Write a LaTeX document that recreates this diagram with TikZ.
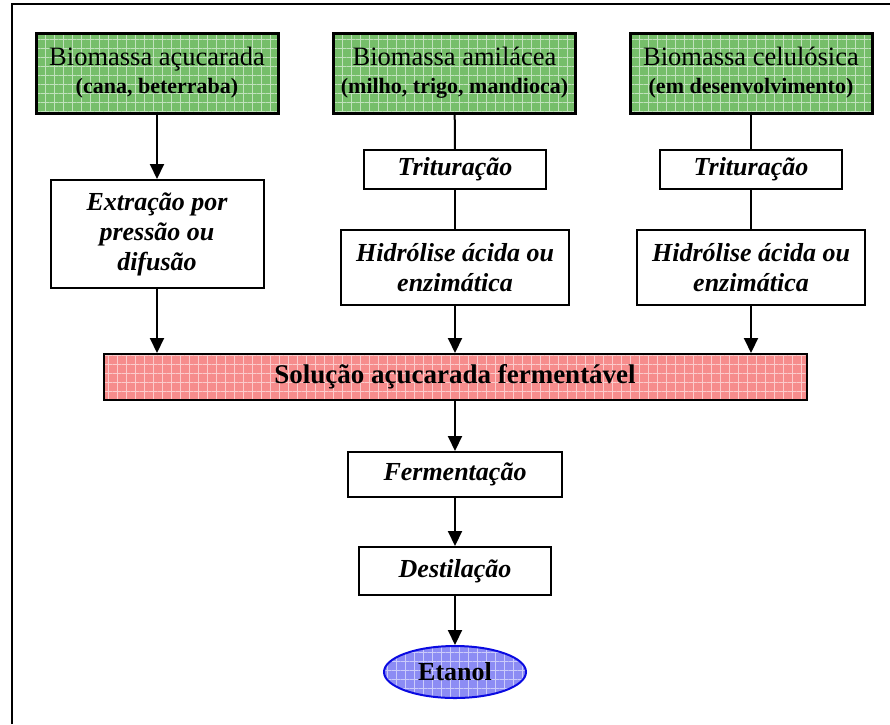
\documentclass[tikz,border=0pt]{standalone}
\usepackage{fontspec}
\setmainfont{Liberation Serif}
\usetikzlibrary{arrows.meta,shapes.geometric,patterns.meta}
\definecolor{biogreen}{RGB}{118,190,106}
\definecolor{solpink}{RGB}{246,140,140}
\definecolor{etblue}{RGB}{140,140,244}
\definecolor{etline}{RGB}{10,10,225}
\newcommand{\subtxt}{\fontsize{22}{24}\selectfont\bfseries}
\begin{document}
\begin{tikzpicture}[x=1pt, y=-1pt, >={Triangle[width=14pt,length=15pt]}, line width=2pt,
grid fill/.style={preaction={fill=#1},pattern={Hatch[angle=0,distance=9pt,line width=1pt]},pattern color=white!55!#1},
bio node/.style={rectangle,draw=black,line width=3pt,grid fill=biogreen,minimum width=242pt,minimum height=80pt,inner sep=0pt,align=center,font=\fontsize{26.5}{27}\selectfont},
proc node/.style={rectangle,draw=black,line width=2pt,fill=white,inner sep=0pt,align=center,font=\fontsize{26}{30}\selectfont\bfseries\itshape},
sol node/.style={rectangle,draw=black,line width=2pt,grid fill=solpink,minimum width=703pt,minimum height=46pt,inner sep=0pt,font=\fontsize{27}{30}\selectfont\bfseries},
end node/.style={ellipse,draw=etline,line width=2pt,grid fill=etblue,minimum width=142pt,minimum height=52pt,inner sep=0pt,font=\fontsize{26}{30}\selectfont\bfseries}]%
\useasboundingbox (0,0) rectangle (890,724);
\draw (12,724) -- (12,4) -- (890,4);
\begin{scope}
\node[bio node] (bioA) at (157,73) {Biomassa açucarada\\[1pt]{\subtxt (cana, beterraba)}};
\node[bio node] (bioB) at (454.5,73) {Biomassa amilácea\\[1pt]{\subtxt (milho, trigo, mandioca)}};
\node[bio node] (bioC) at (751,73) {Biomassa celulósica\\[1pt]{\subtxt (em desenvolvimento)}};
\node[proc node,minimum width=213pt,minimum height=108pt] (extr) at (157,234) {Extração por\\pressão ou\\difusão};
\node[proc node,minimum width=182pt,minimum height=39pt] (tritB) at (455,169.5) {Trituração};
\node[proc node,minimum width=182pt,minimum height=39pt] (tritC) at (751,169.5) {Trituração};
\node[proc node,minimum width=228pt,minimum height=75pt] (hidrB) at (455,267.5) {Hidrólise ácida ou\\enzimática};
\node[proc node,minimum width=228pt,minimum height=75pt] (hidrC) at (751,267.5) {Hidrólise ácida ou\\enzimática};
\node[sol node] (sol) at (455,377) {Solução açucarada fermentável};
\node[proc node,minimum width=214pt,minimum height=45pt] (ferm) at (455,474.5) {Fermentação};
\node[proc node,minimum width=192pt,minimum height=48pt] (dest) at (455,571) {Destilação};
\node[end node] (etanol) at (455,672) {Etanol};
\end{scope}
\begin{scope}[every edge/.style={draw=black,line width=2pt}]
\draw (bioA) edge[->] (extr);
\draw (extr) edge[->] (extr |- sol.north);
\draw (bioB) edge (tritB);
\draw (tritB) edge (hidrB);
\draw (hidrB) edge[->] (hidrB |- sol.north);
\draw (bioC) edge (tritC);
\draw (tritC) edge (hidrC);
\draw (hidrC) edge[->] (hidrC |- sol.north);
\draw (sol) edge[->] (ferm);
\draw (ferm) edge[->] (dest);
\draw (dest) edge[->] (etanol);
\end{scope}
\end{tikzpicture}
\end{document}
